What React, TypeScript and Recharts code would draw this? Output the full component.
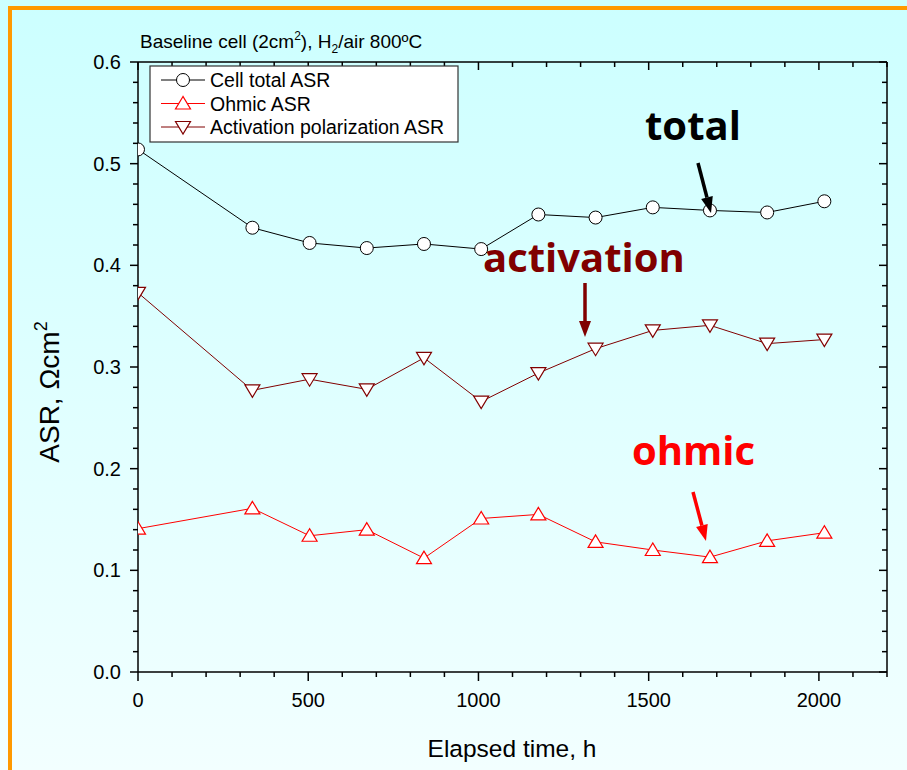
import React from 'react';
import { LineChart, Line, XAxis, YAxis } from 'recharts';

// elapsed time of each measurement (h), one per week
const hours = [0, 336, 504, 672, 840, 1008, 1176, 1344, 1512, 1680, 1848, 2016];
const totalAsr = [0.514, 0.437, 0.422, 0.417, 0.421, 0.416, 0.45, 0.447, 0.457, 0.454, 0.452, 0.463];
const ohmicAsr = [0.141, 0.161, 0.134, 0.14, 0.112, 0.151, 0.155, 0.128, 0.12, 0.113, 0.129, 0.137];
const activationAsr = [0.373, 0.277, 0.288, 0.278, 0.309, 0.266, 0.294, 0.318, 0.336, 0.341, 0.323, 0.327];

const xMajorTicks = [0, 500, 1000, 1500, 2000];
const xTicks = Array.from({ length: 23 }, (_, i) => i * 100);
const yTicks = Array.from({ length: 31 }, (_, i) => +(i * 0.02).toFixed(2));

const data = hours.map((h, i) => ({
  hours: h,
  total: totalAsr[i],
  ohmic: ohmicAsr[i],
  activation: activationAsr[i],
}));

const FONT = '"Liberation Sans", Arial, sans-serif';
const BOLD_FONT = '"Open Sans", "Noto Sans", sans-serif';
const ACT_COLOR = '#800000';

const isMajorY = (v: number) => Math.abs(v * 10 - Math.round(v * 10)) < 1e-6;

const BottomTick = ({ x, y, payload }: any) => {
  const major = xMajorTicks.includes(payload.value);
  return (
    <g>
      <line x1={x} x2={x} y1={y} y2={y + (major ? 9 : 5)} stroke="#000" strokeWidth={1.5} />
      {major && (
        <text x={x} y={y + 35} textAnchor="middle" fontSize={20} fontFamily={FONT} fill="#000">
          {payload.value}
        </text>
      )}
    </g>
  );
};

const TopTick = ({ x, y, payload }: any) => {
  const major = xMajorTicks.includes(payload.value);
  return <line x1={x} x2={x} y1={y} y2={y + (major ? 8 : 5)} stroke="#000" strokeWidth={1.5} />;
};

const LeftTick = ({ x, y, payload }: any) => {
  const major = isMajorY(payload.value);
  return (
    <g>
      <line x1={x} x2={x - (major ? 8 : 5)} y1={y} y2={y} stroke="#000" strokeWidth={1.5} />
      {major && (
        <text x={x - 17} y={y + 7} textAnchor="end" fontSize={20} fontFamily={FONT} fill="#000">
          {payload.value.toFixed(1)}
        </text>
      )}
    </g>
  );
};

const RightTick = ({ x, y, payload }: any) => {
  const major = isMajorY(payload.value);
  return <line x1={x} x2={x - (major ? 8 : 5)} y1={y} y2={y} stroke="#000" strokeWidth={1.5} />;
};

const circleDot = (props: any) => (
  <circle key={`c-${props.index}`} cx={props.cx} cy={props.cy} r={6.5} fill="#fff" stroke="#000" strokeWidth={1} />
);

const upTri = (cx: number, cy: number) => `${cx},${cy - 7} ${cx - 7.5},${cy + 5.5} ${cx + 7.5},${cy + 5.5}`;
const downTri = (cx: number, cy: number) => `${cx - 7.5},${cy - 5.5} ${cx + 7.5},${cy - 5.5} ${cx},${cy + 7}`;

const upDot = (props: any) => (
  <polygon key={`u-${props.index}`} points={upTri(props.cx, props.cy)} fill="#fff" stroke="#ff0000" strokeWidth={1.2} />
);

const downDot = (props: any) => (
  <polygon key={`d-${props.index}`} points={downTri(props.cx, props.cy)} fill="#fff" stroke={ACT_COLOR} strokeWidth={1.2} />
);

const Arrow = ({ x1, y1, x2, y2, color }: any) => {
  const dx = x2 - x1;
  const dy = y2 - y1;
  const len = Math.sqrt(dx * dx + dy * dy);
  const ux = dx / len;
  const uy = dy / len;
  const head = 16;
  const half = 6;
  const bx = x2 - ux * head;
  const by = y2 - uy * head;
  return (
    <g>
      <line x1={x1} y1={y1} x2={bx} y2={by} stroke={color} strokeWidth={3.5} />
      <polygon
        points={`${x2},${y2} ${bx - uy * half},${by + ux * half} ${bx + uy * half},${by - ux * half}`}
        fill={color}
      />
    </g>
  );
};

const legendRows = [
  { label: 'Cell total ASR', color: '#000', kind: 'circle' },
  { label: 'Ohmic ASR', color: '#ff0000', kind: 'up' },
  { label: 'Activation polarization ASR', color: ACT_COLOR, kind: 'down' },
];

const frameAxis = { stroke: '#000', strokeWidth: 1.5 };

const App: React.FC = () => {
  return (
    <div
      style={{
        position: 'absolute',
        left: 0,
        top: 0,
        width: 907,
        height: 770,
        background: 'linear-gradient(180deg, #ccffff 0%, #f2ffff 100%)',
        overflow: 'hidden',
      }}
    >
      <div
        style={{
          position: 'absolute',
          left: 8,
          top: 6,
          width: 907,
          height: 770,
          borderLeft: '4px solid #ff9900',
          borderTop: '4px solid #ff9900',
        }}
      />
      <div style={{ position: 'absolute', left: 0, top: 0 }}>
        <LineChart width={907} height={770} data={data} margin={{ top: 61, right: 19, bottom: 97, left: 137 }}>
          <XAxis
            xAxisId="bottom"
            dataKey="hours"
            type="number"
            domain={[0, 2200]}
            allowDataOverflow
            ticks={xTicks}
            interval={0}
            height={1}
            tickSize={0}
            tickMargin={0}
            tick={<BottomTick />}
            axisLine={frameAxis}
            tickLine={false}
          />
          <XAxis
            xAxisId="top"
            orientation="top"
            dataKey="hours"
            type="number"
            domain={[0, 2200]}
            allowDataOverflow
            ticks={xTicks}
            interval={0}
            height={1}
            tickSize={0}
            tickMargin={0}
            tick={<TopTick />}
            axisLine={frameAxis}
            tickLine={false}
          />
          <YAxis
            yAxisId="left"
            type="number"
            domain={[0, 0.6]}
            allowDataOverflow
            ticks={yTicks}
            interval={0}
            width={1}
            tickSize={0}
            tickMargin={0}
            tick={<LeftTick />}
            axisLine={frameAxis}
            tickLine={false}
          />
          <YAxis
            yAxisId="right"
            orientation="right"
            type="number"
            domain={[0, 0.6]}
            allowDataOverflow
            ticks={yTicks}
            interval={0}
            width={1}
            tickSize={0}
            tickMargin={0}
            tick={<RightTick />}
            axisLine={frameAxis}
            tickLine={false}
          />
          <Line
            xAxisId="bottom"
            yAxisId="left"
            dataKey="ohmic"
            stroke="#ff0000"
            strokeWidth={1}
            dot={upDot}
            isAnimationActive={false}
          />
          <Line
            xAxisId="bottom"
            yAxisId="left"
            dataKey="activation"
            stroke={ACT_COLOR}
            strokeWidth={1}
            dot={downDot}
            isAnimationActive={false}
          />
          <Line
            xAxisId="bottom"
            yAxisId="left"
            dataKey="total"
            stroke="#000"
            strokeWidth={1}
            dot={circleDot}
            isAnimationActive={false}
          />
        </LineChart>
      </div>
      <svg width={907} height={770} style={{ position: 'absolute', left: 0, top: 0, pointerEvents: 'none' }}>
        <text x={140} y={48} fontSize={19} fontFamily={FONT} fill="#000">
          Baseline cell (2cm
          <tspan fontSize={12} dy={-8}>2</tspan>
          <tspan dy={8}>), H</tspan>
          <tspan fontSize={12} dy={5}>2</tspan>
          <tspan dy={-5}>/air 800ºC</tspan>
        </text>
        <text
          x={59}
          y={392}
          transform="rotate(-90 59 392)"
          textAnchor="middle"
          fontSize={28}
          fontFamily={FONT}
          fill="#000"
        >
          ASR, Ωcm
          <tspan fontSize={18} dy={-12}>2</tspan>
        </text>
        <text x={512} y={757} textAnchor="middle" fontSize={24.5} fontFamily={FONT} fill="#000">
          Elapsed time, h
        </text>

        <g>
          <rect x={150} y={66} width={308} height={76} fill="#fff" stroke="#333" strokeWidth={1.2} />
          {legendRows.map((row, i) => {
            const cy = 80 + i * 23.5;
            return (
              <g key={row.label}>
                <line x1={161} x2={205} y1={cy} y2={cy} stroke={row.color} strokeWidth={1} />
                {row.kind === 'circle' && <circle cx={183} cy={cy} r={6.5} fill="#fff" stroke={row.color} />}
                {row.kind === 'up' && <polygon points={upTri(183, cy)} fill="#fff" stroke={row.color} strokeWidth={1.2} />}
                {row.kind === 'down' && (
                  <polygon points={downTri(183, cy)} fill="#fff" stroke={row.color} strokeWidth={1.2} />
                )}
                <text x={210} y={cy + 7} fontSize={19.5} fontFamily={FONT} fill="#000">
                  {row.label}
                </text>
              </g>
            );
          })}
        </g>

        <text x={645} y={140} fontSize={40} fontWeight={700} fontFamily={BOLD_FONT} fill="#000">
          total
        </text>
        <Arrow x1={698} y1={163} x2={711} y2={213} color="#000" />
        <text x={483} y={272} fontSize={40} fontWeight={700} fontFamily={BOLD_FONT} fill={ACT_COLOR}>
          activation
        </text>
        <Arrow x1={585} y1={283} x2={585} y2={337} color={ACT_COLOR} />
        <text x={632} y={465} fontSize={40} fontWeight={700} fontFamily={BOLD_FONT} fill="#ff0000">
          ohmic
        </text>
        <Arrow x1={693} y1={492} x2={706} y2={541} color="#ff0000" />
      </svg>
    </div>
  );
};

export default App;
